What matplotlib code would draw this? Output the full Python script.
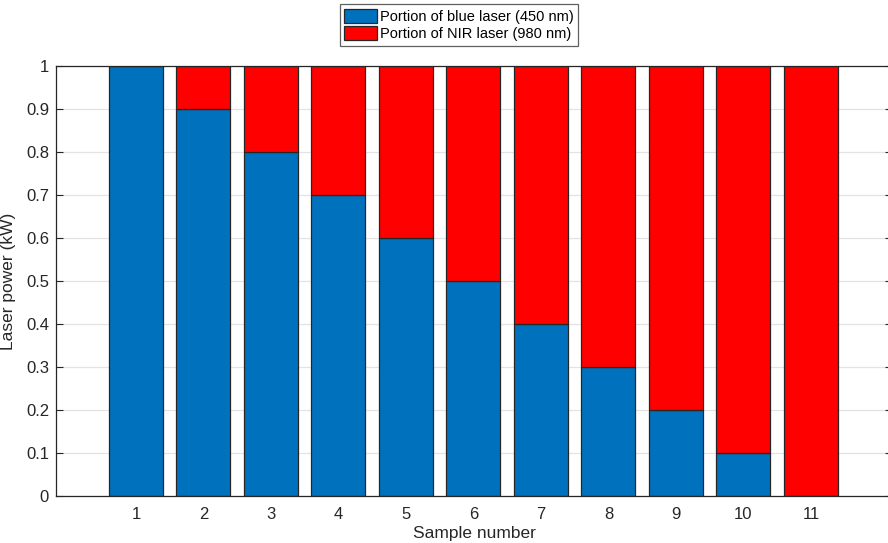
import matplotlib
matplotlib.use("Agg")
import matplotlib.pyplot as plt
import numpy as np

plt.rcParams['font.family'] = ['Liberation Sans', 'DejaVu Sans']

samples = [1, 2, 3, 4, 5, 6, 7, 8, 9, 10, 11]
blue_power = [1.0, 0.9, 0.8, 0.7, 0.6, 0.5, 0.4, 0.3, 0.2, 0.1, 0.0]
nir_power = [0.0, 0.1, 0.2, 0.3, 0.4, 0.5, 0.6, 0.7, 0.8, 0.9, 1.0]
y_ticks = [0, 0.1, 0.2, 0.3, 0.4, 0.5, 0.6, 0.7, 0.8, 0.9, 1]
y_ticklabels = ['0', '0.1', '0.2', '0.3', '0.4', '0.5', '0.6', '0.7', '0.8', '0.9', '1']

W, H = 888, 543
x_left, x_right = 56, 892
fig = plt.figure(figsize=(W / 100, H / 100), dpi=100)
ax = fig.add_axes([x_left / W, 1 - 496 / H, (x_right - x_left) / W, (496 - 66) / H])

blue = '#0072BD'
red = '#FF0000'
edge = '#262626'

b1 = ax.bar(samples, blue_power, width=0.8, color=blue, edgecolor=edge, linewidth=0.9, zorder=3,
            label='Portion of blue laser (450 nm)')
b2 = ax.bar(samples, nir_power, width=0.8, bottom=blue_power, color=red, edgecolor=edge, linewidth=0.9,
            zorder=3, label='Portion of NIR laser (980 nm)')

ax.set_xlim(-0.185, -0.185 + (x_right - x_left) / 67.5)
ax.set_ylim(0, 1)
ax.set_xticks(samples)
ax.set_yticks(y_ticks)
ax.set_yticklabels(y_ticklabels)
ax.tick_params(axis='both', direction='in', length=5, width=0.8, colors='#262626',
               labelsize=12, top=True, right=True, zorder=5)
ax.tick_params(axis='x', pad=8)
ax.tick_params(axis='y', pad=5)
ax.yaxis.grid(True, color='#e3e3e3', linewidth=0.9, zorder=0)
ax.set_axisbelow(False)
for s in ax.spines.values():
    s.set_color('#262626')
    s.set_linewidth(0.9)
    s.set_zorder(6)

ax.set_xlabel('Sample number', fontsize=12.5, color='#262626', labelpad=3)
ax.set_ylabel('Laser power (kW)', fontsize=12.5, color='#262626', labelpad=7)

leg = fig.legend(handles=[b1, b2], loc='center', bbox_to_anchor=(459 / W, 1 - 25 / H),
                 fontsize=10.5, frameon=True, fancybox=False, edgecolor='#3a3a3a',
                 handlelength=2.25, handleheight=1.1, handletextpad=0.2, borderpad=0.3,
                 labelspacing=0.2, borderaxespad=0)
leg.get_frame().set_linewidth(0.9)

fig.savefig('out.png', dpi=100)
